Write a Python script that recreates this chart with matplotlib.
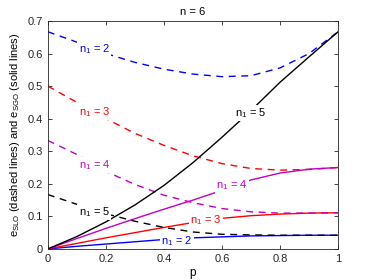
import numpy as np
import matplotlib.pyplot as plt

plt.rcParams['font.family'] = ['Liberation Sans', 'DejaVu Sans']
plt.rcParams['mathtext.fontset'] = 'custom'
plt.rcParams['mathtext.rm'] = 'Liberation Sans'
plt.rcParams['mathtext.it'] = 'Liberation Sans'

# values, p = 0, 0.1, ..., 1
p = [0.0, 0.1, 0.2, 0.3, 0.4, 0.5, 0.6, 0.7, 0.8, 0.9, 1.0]

# e_SLO (dashed)
slo_2 = [0.667, 0.635, 0.600, 0.573, 0.552, 0.537, 0.529, 0.532, 0.556, 0.600, 0.667]
slo_3 = [0.500, 0.450, 0.400, 0.355, 0.318, 0.286, 0.262, 0.247, 0.242, 0.244, 0.250]
slo_4 = [0.333, 0.290, 0.238, 0.198, 0.165, 0.142, 0.124, 0.114, 0.110, 0.110, 0.111]
slo_5 = [0.167, 0.137, 0.108, 0.085, 0.066, 0.052, 0.045, 0.043, 0.042, 0.042, 0.042]

# e_SGO (solid)
sgo_2 = [0.0, 0.008, 0.015, 0.022, 0.029, 0.034, 0.037, 0.040, 0.041, 0.042, 0.042]
sgo_3 = [0.0, 0.017, 0.034, 0.050, 0.066, 0.081, 0.094, 0.102, 0.107, 0.110, 0.111]
sgo_4 = [0.0, 0.032, 0.063, 0.093, 0.122, 0.150, 0.180, 0.212, 0.233, 0.245, 0.250]
sgo_5 = [0.0, 0.038, 0.083, 0.135, 0.195, 0.265, 0.343, 0.425, 0.512, 0.590, 0.667]

labels = ['n$_1$ = 2', 'n$_1$ = 3', 'n$_1$ = 4', 'n$_1$ = 5']
colors = ['#0000ff', '#ff0000', '#c000c0', 'black']

# label spots (p, value) for dashed and solid curves
slo_lab = [(0.16, 0.614), (0.16, 0.42), (0.16, 0.258), (0.16, 0.114)]
sgo_lab = [(0.445, 0.025), (0.545, 0.089), (0.635, 0.197), (0.70, 0.418)]

fig = plt.figure(figsize=(3.74, 2.8), dpi=100)
ax = fig.add_axes([0.128, 0.111, 0.776, 0.814])

slo = (slo_2, slo_3, slo_4, slo_5)
sgo = (sgo_2, sgo_3, sgo_4, sgo_5)
for i in range(4):
    ax.plot(p, slo[i], color=colors[i], lw=1.0, ls=(0, (5, 4)))
    ax.plot(p, sgo[i], color=colors[i], lw=1.0)

for i in range(4):
    for (x, y) in (slo_lab[i], sgo_lab[i]):
        ax.text(x, y, labels[i], color=colors[i], fontsize=8, ha='center', va='center',
                bbox=dict(facecolor='white', edgecolor='none', pad=1.0))

ax.set_xlim(0, 1)
ax.set_ylim(0, 0.7)
ax.set_xticks([0, 0.2, 0.4, 0.6, 0.8, 1])
ax.set_xticklabels(['0', '0.2', '0.4', '0.6', '0.8', '1'])
ax.set_yticks([0, 0.1, 0.2, 0.3, 0.4, 0.5, 0.6, 0.7])
ax.set_yticklabels(['0', '0.1', '0.2', '0.3', '0.4', '0.5', '0.6', '0.7'])
ax.tick_params(direction='in', top=True, right=True, labelsize=8, length=3,
               colors='#262626', width=0.6)
for s in ax.spines.values():
    s.set_color('#262626')
    s.set_linewidth(0.6)
ax.set_title('n = 6', fontsize=8, pad=4)
ax.set_xlabel('p', fontsize=8.5, labelpad=2)
ax.set_ylabel('e$_{SLO}$ (dashed lines) and e$_{SGO}$ (solid lines)', fontsize=8, labelpad=4)

fig.savefig('out.png', dpi=100)
